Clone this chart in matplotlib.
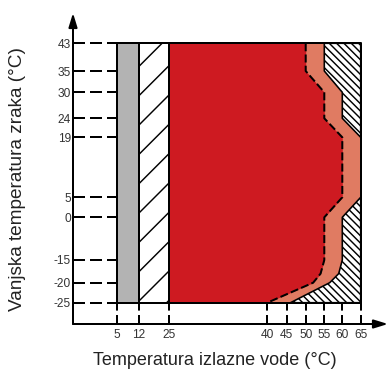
import numpy as np
import matplotlib.pyplot as plt

# podaci
x_ticks = [5, 12, 25, 40, 45, 50, 55, 60, 65]
y_ticks = [43, 35, 30, 24, 19, 5, 0, -15, -20, -25]
gray_x = [5, 12]
hatch_x = [12, 25]
zone_x = [25, 65]
y_range = [-25, 43]
red_edge_x = [50, 50, 55, 55, 60, 60, 55, 55, 54, 52, 40]
red_edge_y = [43, 35, 30, 24, 19, 5, 0, -15, -18, -20, -25]
top_edge_x = [55, 55, 60, 60, 65]
top_edge_y = [43, 35, 30, 24, 19]
bot_edge_x = [65, 60, 60, 59, 56.5, 46]
bot_edge_y = [5, 0, -15, -18, -20, -25]

# raspored: neravnomjerna skala, pozicije oznaka u pikselima
W, H, DPI = 390, 369, 88
x_px = [116.7, 139, 169, 267.3, 286.7, 305.7, 324.3, 342.3, 360.7]
y_px = [43.3, 71, 92.3, 118.3, 137.3, 197.3, 217.3, 260, 282.7, 302.7]

GRAY = '#b3b3b3'
RED = '#ce1a21'
ORANGE = '#e07b62'


def px(v):
    # pikseli -> tocke
    return v * 72 / DPI


LW = px(2.0)

plt.rcParams['font.family'] = ['Liberation Sans', 'DejaVu Sans']
plt.rcParams['hatch.linewidth'] = px(1.45)


def piecewise(xp, fp):
    xp = np.asarray(xp, float)
    fp = np.asarray(fp, float)
    order = np.argsort(xp)
    xp, fp = xp[order], fp[order]
    s0 = (fp[1] - fp[0]) / (xp[1] - xp[0])
    s1 = (fp[-1] - fp[-2]) / (xp[-1] - xp[-2])

    def f(v):
        v = np.asarray(v, float)
        out = np.interp(v, xp, fp)
        out = np.where(v < xp[0], fp[0] + (v - xp[0]) * s0, out)
        out = np.where(v > xp[-1], fp[-1] + (v - xp[-1]) * s1, out)
        return out
    return f


y_up = H - np.array(y_px)
fx, fx_inv = piecewise(x_ticks, x_px), piecewise(x_px, x_ticks)
fy, fy_inv = piecewise(y_ticks, y_up), piecewise(y_up, y_ticks)

fig = plt.figure(figsize=(W / DPI, H / DPI), dpi=DPI)
ax = fig.add_axes([73 / W, (H - 324) / H, (388 - 73) / W, (324 - 13) / H])
ax.set_xscale('function', functions=(fx, fx_inv))
ax.set_yscale('function', functions=(fy, fy_inv))
ax.set_xlim(float(fx_inv(73)), float(fx_inv(388)))
ax.set_ylim(float(fy_inv(H - 324)), float(fy_inv(H - 13)))

# zone
ax.fill_betweenx(y_range, zone_x[0], zone_x[1], color=ORANGE, lw=0)
ax.fill_betweenx(red_edge_y, zone_x[0], red_edge_x, color=RED, lw=0)
ax.fill_betweenx(y_range, gray_x[0], gray_x[1], facecolor=GRAY, edgecolor='k', lw=LW)
ax.fill_betweenx(y_range, hatch_x[0], hatch_x[1], facecolor='white',
                 edgecolor='k', hatch='/', lw=LW)
ax.fill_betweenx(top_edge_y, top_edge_x, zone_x[1], facecolor='white',
                 edgecolor='k', hatch='\\' * 4, lw=px(1.6))
ax.fill_betweenx(bot_edge_y, bot_edge_x, zone_x[1], facecolor='white',
                 edgecolor='k', hatch='\\' * 4, lw=px(1.6))
ax.plot(red_edge_x, red_edge_y, color='k', lw=LW, dashes=(4, 1.6))

# okvir
x0, x1 = x_ticks[0], x_ticks[-1]
y0, y1 = y_range
ax.plot([x0, x1, x1, x0, x0], [y0, y0, y1, y1, y0], color='k', lw=LW)

# isprekidane linije do osi
xmin, ymin = ax.get_xlim()[0], ax.get_ylim()[0]
ax.hlines(y_ticks, xmin, x0, colors='k', lw=LW, linestyles=(0, (6, 2.5)))
ax.vlines(x_ticks, ymin, y0, colors='k', lw=LW, linestyles=(0, (4.5, 2.2)))

# osi sa strelicama
for s in ax.spines.values():
    s.set_visible(False)
arrow = dict(arrowstyle='-|>,head_length=0.65,head_width=0.2', color='k',
             lw=LW, shrinkA=0, shrinkB=0, mutation_scale=px(18))
ax.annotate('', xy=(0, 1), xytext=(0, 0), xycoords='axes fraction', arrowprops=arrow)
ax.annotate('', xy=(1, 0), xytext=(0, 0), xycoords='axes fraction', arrowprops=arrow)

ax.set_xticks(x_ticks)
ax.set_yticks(y_ticks)
ax.set_xticklabels([str(v) for v in x_ticks])
ax.set_yticklabels([str(v) for v in y_ticks])
ax.minorticks_off()
ax.tick_params(axis='x', length=0, pad=px(4.5), labelsize=px(11.9), labelcolor='#333333')
ax.tick_params(axis='y', length=0, pad=px(2.2), labelsize=px(11.9), labelcolor='#333333')

fig.text(215 / W, 4 / H, 'Temperatura izlazne vode (°C)', ha='center',
         va='baseline', fontsize=px(18), color='#222222')
fig.text(17.5 / W, 1 - 179 / H, 'Vanjska temperatura zraka (°C)', ha='center',
         va='center', rotation=90, fontsize=px(19), color='#222222')

fig.savefig('out.png', dpi=DPI)
